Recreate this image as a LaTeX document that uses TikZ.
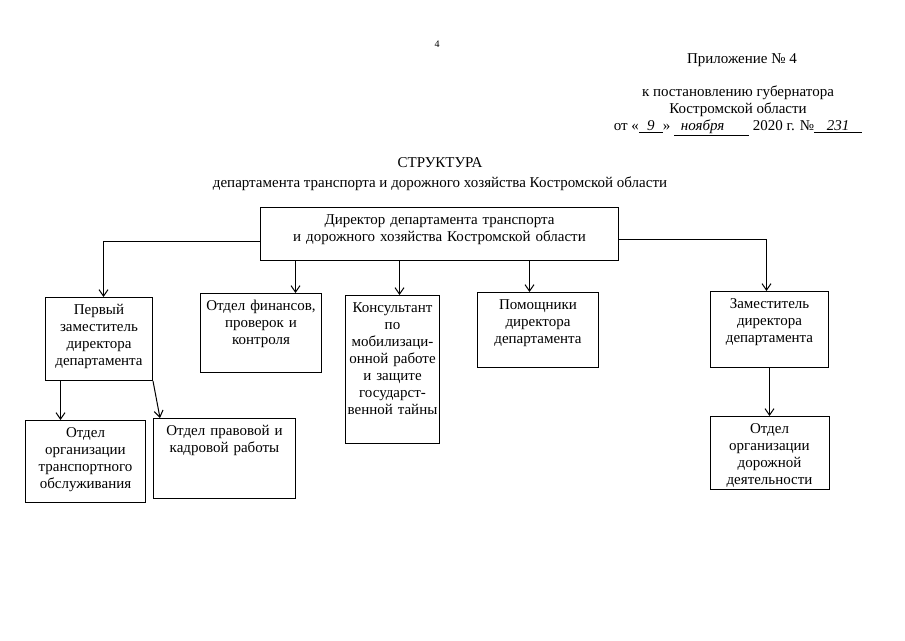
\documentclass[tikz,border=0pt]{standalone}
\usepackage{fontspec}
\setmainfont{Liberation Serif}
\usetikzlibrary{arrows.meta,positioning}
\tikzset{
  orgarr/.style={-{Straight Barb[length=6.5pt,width=9pt]}, line width=1pt},
  orgbox/.style={draw, line width=1pt, align=center, anchor=north west, inner xsep=2pt, inner ysep=7pt, text height=10pt},
  orglbl/.style={inner sep=0pt, align=center},
}
\newcommand{\handfill}[2]{\underline{\makebox[#1]{\textit{#2}}}}

\begin{document}
\begin{tikzpicture}[
  x=1pt, y=-1pt,
  font=\fontsize{15}{17}\selectfont,
]
  \useasboundingbox (0,0) rectangle (905,640);
  % heading
  \node[orglbl, font=\fontsize{10}{12}\selectfont] (pg) at (437,44) {4};
  \node[orglbl] (app) at (742,60) {Приложение №~4};
  \node[orglbl, anchor=north] (dec) at (738,86) {к постановлению губернатора\\Костромской области\\от «\handfill{24pt}{9}» \handfill{75pt}{ноября\hspace{1.2em}} 2020 г. №\handfill{48pt}{231}};
  \node[orglbl, anchor=north] (ttl) at (440,157) {СТРУКТУРА\\[3pt]департамента транспорта и дорожного хозяйства Костромской области};
  % boxes
  \node[orgbox, text width=354pt, text depth=29pt] (dir) at (260,207) {Директор департамента транспорта\\и дорожного хозяйства Костромской области};
  \node[orgbox, text width=103pt, text depth=59pt] (first) at (45,297) {Первый\\заместитель\\директора\\департамента};
  \node[orgbox, text width=117pt, text depth=55pt] (fin) at (200,293) {Отдел финансов,\\проверок и\\контроля};
  \node[orgbox, text width=90pt, text depth=124pt] (cons) at (345,295) {Консультант\\по\\мобилизаци-\\онной работе\\и защите\\государст-\\венной тайны};
  \node[orgbox, text width=117pt, text depth=51pt] (pom) at (477,292) {Помощники\\директора\\департамента};
  \node[orgbox, text width=114pt, text depth=52pt] (zam) at (710,291) {Заместитель\\директора\\департамента};
  \node[orgbox, text width=116pt, text depth=58pt] (trans) at (25,420) {Отдел\\организации\\транспортного\\обслуживания};
  \node[orgbox, text width=138pt, text depth=56pt] (prav) at (153,418) {Отдел правовой и\\кадровой работы};
  \node[orgbox, below=48pt of zam, text width=115pt, text depth=49pt] (dor) {Отдел\\организации\\дорожной\\деятельности};
  % connectors
  \draw[orgarr] ([yshift=-7.5pt]dir.west) -| ([xshift=4.5pt]first.north);
  \draw[orgarr] ([yshift=-5.5pt]dir.east) -| ([xshift=-3pt]zam.north);
  \foreach \b/\s in {fin/34.5,cons/7,pom/-8.5}
    \draw[orgarr] ([xshift=\s pt]\b.north |- dir.south) -- ([xshift=\s pt]\b.north);
  \draw[orgarr] ([xshift=-25pt]trans.north |- first.south) -- ([xshift=-25pt]trans.north);
  \draw[orgarr] (first.south east) -- ([xshift=7pt]prav.north west);
  \draw[orgarr] (zam.south -| dor.north) -- (dor.north);
\end{tikzpicture}
\end{document}
